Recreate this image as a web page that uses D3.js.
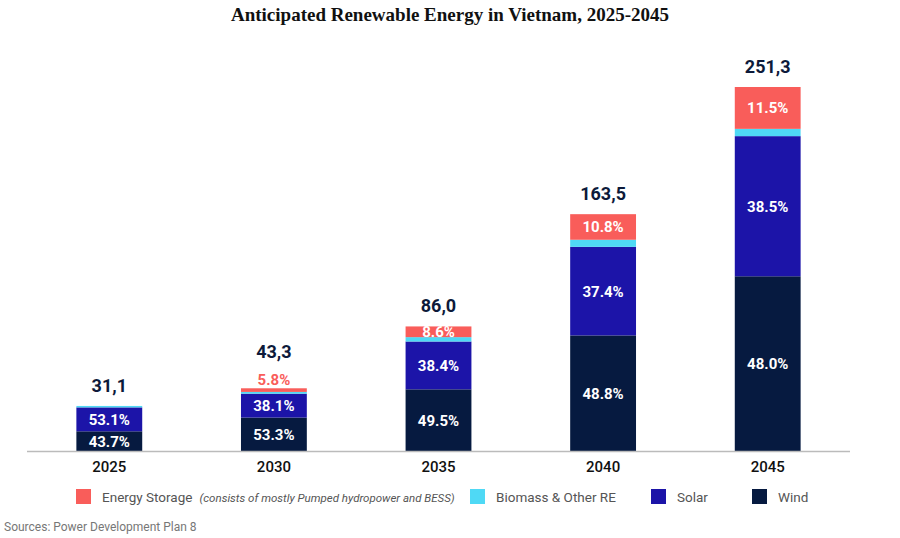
<!DOCTYPE html>
<html><head><meta charset="utf-8">
<script src="https://cdn.jsdelivr.net/npm/d3@7"></script>
<style>body{margin:0;background:#fff}</style>
</head><body><svg id="c" width="900" height="538"></svg>
<script>
const years = ["2025","2030","2035","2040","2045"];
const totals = [31.1, 43.3, 86.0, 163.5, 251.3];
const totalLabels = ["31,1","43,3","86,0","163,5","251,3"];
const wind = [43.7, 53.3, 49.5, 48.8, 48.0];
const solar = [53.1, 38.1, 38.4, 37.4, 38.5];
const biomass = [3.2, 2.8, 3.5, 3.0, 2.0];
const storage = [0, 5.8, 8.6, 10.8, 11.5];
const seriesNames = ["Wind","Solar","Biomass & Other RE","Energy Storage"];
const colors = {"Wind":"#061a40","Solar":"#1c14a8","Biomass & Other RE":"#4fd9f5","Energy Storage":"#f95d5a"};

const svg = d3.select("#c");
const base = 451;
const x = d3.scaleBand().domain(years).range([27, 850]).paddingInner(0.6).paddingOuter(0.3);
const y = d3.scaleLinear().domain([0, 251.3]).range([base, 87]);

svg.append("text").attr("x", 450).attr("y", 21).attr("text-anchor","middle")
  .attr("font-family","Liberation Serif, serif").attr("font-weight","bold").attr("font-size",19)
  .attr("fill","#111").text("Anticipated Renewable Energy in Vietnam, 2025-2045");

const rows = years.map((yr,i) => ({year: yr, total: totals[i],
  "Wind": wind[i], "Solar": solar[i], "Biomass & Other RE": biomass[i], "Energy Storage": storage[i]}));
const stack = d3.stack().keys(seriesNames)(rows);

stack.forEach(layer => {
  const g = svg.append("g");
  layer.forEach(d => {
    const t = d.data.total;
    const y0 = y(d[0]*t/100), y1 = y(d[1]*t/100);
    g.append("rect").attr("x", x(d.data.year)).attr("width", x.bandwidth())
      .attr("y", y1).attr("height", Math.max(0, y0-y1)).attr("fill", colors[layer.key]);
    const v = d.data[layer.key];
    if (layer.key === "Biomass & Other RE" || v === 0) return;
    const h = y0 - y1;
    const inside = h > 9;
    g.append("text").attr("x", x(d.data.year)+x.bandwidth()/2)
      .attr("y", inside ? (y0+y1)/2 + 5.5 : y1 - 3)
      .attr("text-anchor","middle").attr("font-family","Roboto, sans-serif")
      .attr("font-weight","bold").attr("font-size",15)
      .attr("fill", inside ? "#fff" : colors["Energy Storage"]).text(v.toFixed(1)+"%");
  });
});

rows.forEach((d,i) => {
  svg.append("text").attr("x", x(d.year)+x.bandwidth()/2).attr("y", y(d.total) - (d.year==="2030" ? 30 : 14))
    .attr("text-anchor","middle").attr("font-family","Roboto, sans-serif").attr("font-weight","bold")
    .attr("font-size",18).attr("fill","#0d1a3a").text(totalLabels[i]);
});

svg.append("line").attr("x1",27).attr("x2",850).attr("y1",base+0.5).attr("y2",base+0.5)
  .attr("stroke","#bbb").attr("stroke-width",1.5);
const ax = svg.append("g").attr("transform",`translate(0,${base})`)
  .call(d3.axisBottom(x).tickSize(0).tickPadding(10));
ax.select(".domain").remove();
ax.selectAll("text").attr("font-family","Roboto, sans-serif").attr("font-weight",500)
  .attr("font-size",15).attr("fill","#111");

const legend = [
  {k:"Energy Storage", x:76, label:"Energy Storage"},
  {k:"Biomass & Other RE", x:470, label:"Biomass & Other RE"},
  {k:"Solar", x:651, label:"Solar"},
  {k:"Wind", x:752, label:"Wind"}];
legend.forEach(l => {
  svg.append("rect").attr("x", l.x).attr("y", 489).attr("width",15).attr("height",15).attr("fill", colors[l.k]);
  const t = svg.append("text").attr("x", l.x+26).attr("y", 502).attr("font-family","Roboto, sans-serif")
    .attr("font-size",13.5).attr("fill","#555").text(l.label);
  if (l.k === "Energy Storage") {
    t.append("tspan").attr("dx",7).attr("font-style","italic").attr("font-size",11.5)
      .text("(consists of mostly Pumped hydropower and BESS)");
  }
});

svg.append("text").attr("x",4).attr("y",531).attr("font-family","Roboto, sans-serif")
  .attr("font-size",12).attr("fill","#777").text("Sources: Power Development Plan 8");
</script></body></html>
